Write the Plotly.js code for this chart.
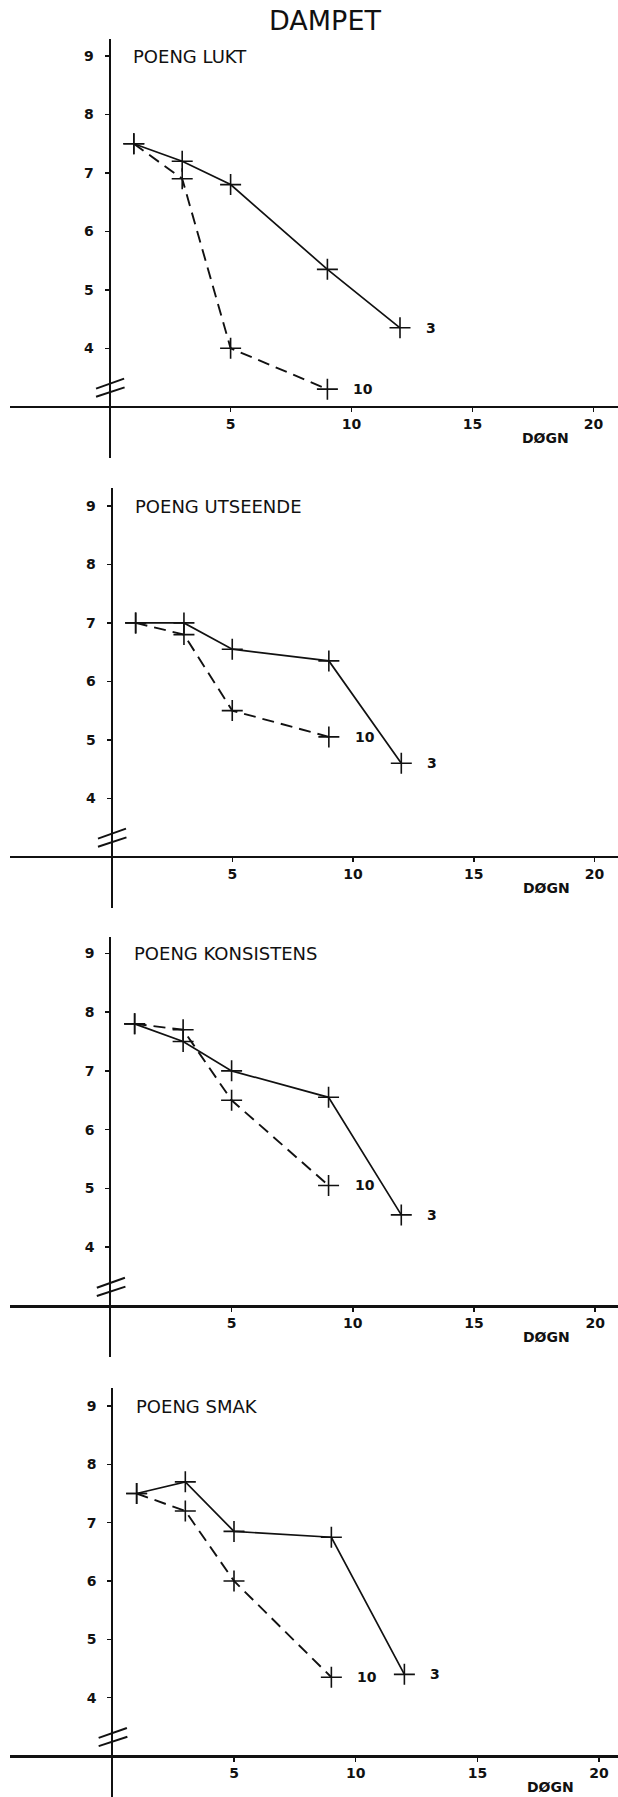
<!DOCTYPE html>
<html>
<head>
<meta charset="utf-8">
<script src="https://cdn.plot.ly/plotly-3.0.1.min.js"></script>
<style>
  html, body { margin: 0; padding: 0; background: #ffffff; }
  #chart { width: 618px; height: 1797px; }
</style>
</head>
<body>
<div id="chart"></div>
<script>
// Storage time (døgn) for the two series, labelled "3" and "10" at their line ends
const days3 = [1, 3, 5, 9, 12];
const days10 = [1, 3, 5, 9];
const seriesLabels = ['3', '10'];

const panelLabels = ['POENG LUKT', 'POENG UTSEENDE', 'POENG KONSISTENS', 'POENG SMAK'];

// Scores, series "3" (solid line)
const lukt3       = [7.5, 7.2, 6.8, 5.35, 4.35];
const utseende3   = [7.0, 7.0, 6.55, 6.35, 4.6];
const konsistens3 = [7.8, 7.5, 7.0, 6.55, 4.55];
const smak3       = [7.5, 7.7, 6.85, 6.75, 4.4];

// Scores, series "10" (dashed line)
const lukt10       = [7.5, 6.9, 4.0, 3.3];
const utseende10   = [7.0, 6.8, 5.5, 5.05];
const konsistens10 = [7.8, 7.7, 6.5, 5.05];
const smak10       = [7.5, 7.2, 6.0, 4.35];

const xTickVals = [5, 10, 15, 20];
const xTickText = ['5', '10', '15', '20'];
const yTickVals = [4, 5, 6, 7, 8, 9];
const yTickText = ['4', '5', '6', '7', '8', '9'];
const xAxisLabel = 'DØGN';
const mainTitle = 'DAMPET';

const solidSets = [lukt3, utseende3, konsistens3, smak3];
const dashedSets = [lukt10, utseende10, konsistens10, smak10];

// Page geometry (pixels): origin of each panel's axes and extent of its vertical axis
const W = 618, H = 1797, ML = 10;
const frames = [
  { x0: 109.6, sx: 24.2,  axisY: 406.7,  nineY: 56,     top: 39,     bottom: 458 },
  { x0: 111.5, sx: 24.15, axisY: 856.7,  nineY: 506,    top: 488.3,  bottom: 908 },
  { x0: 110.4, sx: 24.24, axisY: 1306,   nineY: 953.3,  top: 936.7,  bottom: 1357 },
  { x0: 112.3, sx: 24.34, axisY: 1756,   nineY: 1406,   top: 1388.3, bottom: 1797 }
];

const INK = '#111111';
const tickFont = { family: 'DejaVu Sans', size: 14, color: INK, weight: 'bold' };
const labelFont = { family: 'DejaVu Sans', size: 18, color: INK };

const traces = [];
const annotations = [];
const shapes = [];
const layout = {
  width: W,
  height: H,
  margin: { l: ML, r: 0, t: 0, b: 0, pad: 0 },
  paper_bgcolor: '#ffffff',
  plot_bgcolor: 'rgba(0,0,0,0)',
  showlegend: false,
  hovermode: false,
  title: {
    text: mainTitle,
    xref: 'container', yref: 'container',
    x: 325 / W, xanchor: 'center',
    y: 1 - 21 / H, yanchor: 'middle',
    font: { family: 'DejaVu Sans', size: 27, color: INK }
  }
};

frames.forEach((f, i) => {
  const n = i + 1;
  const xa = 'x' + n, ya = 'y' + n;
  const sy = (f.axisY - f.nineY) / 6;

  layout['xaxis' + n] = {
    domain: [0, 1],
    range: [(ML - f.x0) / f.sx, (W - f.x0) / f.sx],
    anchor: 'free',
    position: 1 - f.axisY / H,
    showline: true, linecolor: INK, linewidth: 2.5,
    ticks: 'outside', ticklen: 4, tickwidth: 1.5, tickcolor: INK,
    tickmode: 'array', tickvals: xTickVals, ticktext: xTickText,
    tickfont: tickFont,
    showgrid: false, zeroline: false, fixedrange: true
  };
  layout['yaxis' + n] = {
    domain: [1 - f.bottom / H, 1 - f.top / H],
    range: [3 - (f.bottom - f.axisY) / sy, 9 + (f.nineY - f.top) / sy],
    anchor: 'free',
    position: (f.x0 - ML) / (W - ML),
    showline: true, linecolor: INK, linewidth: 2,
    ticks: 'outside', ticklen: 4, tickwidth: 1.5, tickcolor: INK,
    tickmode: 'array', tickvals: yTickVals, ticktext: yTickText,
    tickfont: tickFont, ticklabelstandoff: 8,
    showgrid: false, zeroline: false, fixedrange: true
  };

  const common = {
    type: 'scatter', mode: 'lines+markers', xaxis: xa, yaxis: ya,
    cliponaxis: false, hoverinfo: 'skip',
    marker: { symbol: 'cross-thin-open', size: 15, color: INK, line: { color: INK, width: 1.6 } }
  };
  traces.push(Object.assign({}, common, {
    x: days3, y: solidSets[i], name: seriesLabels[0],
    line: { color: INK, width: 1.7, dash: 'solid' }
  }));
  traces.push(Object.assign({}, common, {
    x: days10, y: dashedSets[i], name: seriesLabels[1],
    line: { color: INK, width: 1.9, dash: '12px,7px' }
  }));

  // Panel heading
  annotations.push({
    xref: xa, yref: ya, x: 0.9, y: 9, xanchor: 'left', yanchor: 'middle',
    text: panelLabels[i], showarrow: false, font: labelFont
  });
  // Series labels at the line ends
  annotations.push({
    xref: xa, yref: ya,
    x: days3[days3.length - 1], y: solidSets[i][solidSets[i].length - 1],
    xanchor: 'left', yanchor: 'middle', xshift: 24,
    text: seriesLabels[0], showarrow: false, font: tickFont
  });
  annotations.push({
    xref: xa, yref: ya,
    x: days10[days10.length - 1], y: dashedSets[i][dashedSets[i].length - 1],
    xanchor: 'left', yanchor: 'middle', xshift: 24,
    text: seriesLabels[1], showarrow: false, font: tickFont
  });
  // Axis label under the right end of the time axis
  annotations.push({
    xref: xa, yref: ya, x: 18, y: 3, yshift: -31,
    xanchor: 'center', yanchor: 'middle',
    text: xAxisLabel, showarrow: false, font: tickFont
  });

  // Axis-break marks on the score axis
  shapes.push({
    type: 'line', xref: xa, yref: ya, x0: -0.56, y0: 3.31, x1: 0.6, y1: 3.48,
    line: { color: INK, width: 2 }
  });
  shapes.push({
    type: 'line', xref: xa, yref: ya, x0: -0.56, y0: 3.17, x1: 0.62, y1: 3.33,
    line: { color: INK, width: 2 }
  });
});

layout.annotations = annotations;
layout.shapes = shapes;

Plotly.newPlot('chart', traces, layout, { displayModeBar: false, staticPlot: true });
</script>
</body>
</html>
